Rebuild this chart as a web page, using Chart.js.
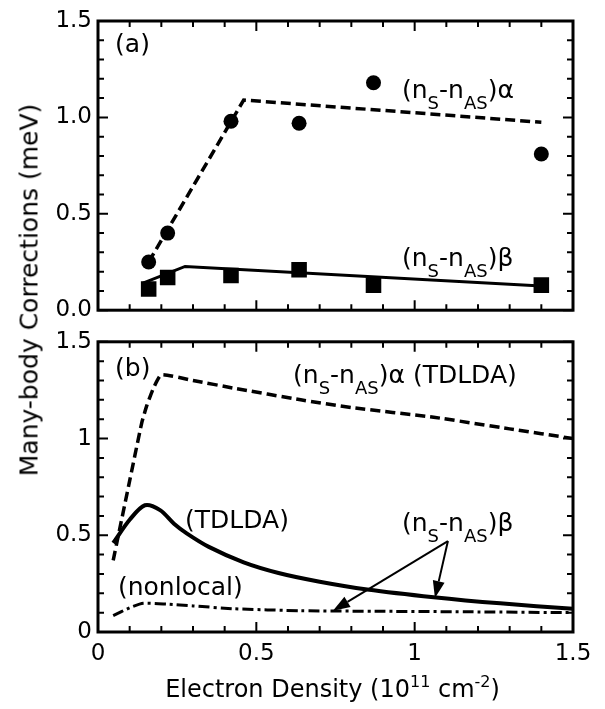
<!DOCTYPE html>
<html>
<head>
<meta charset="utf-8">
<script src="https://cdn.jsdelivr.net/npm/chart.js@4.4.1/dist/chart.umd.min.js"></script>
<style>
    body { margin: 0; background: #fff; }
    #wrap { position: relative; width: 605px; height: 709px; font-family: 'DejaVu Sans', sans-serif; color: #000; }
    #chartA { position: absolute; left: 0; top: 0; }
    #chartB { position: absolute; left: 0; top: 322px; }
    #yTitle {
        position: absolute; left: 29px; top: 290px; font-size: 25px; white-space: nowrap;
        transform: translate(-50%, -50%) rotate(-90deg);
    }
    #xTitle { position: absolute; left: 0; width: 665px; top: 677px; font-size: 24px; line-height: 24px; text-align: center; white-space: nowrap; }
    #xTitle sup { font-size: 16px; position: relative; top: -10px; vertical-align: baseline; line-height: 0; }
</style>
</head>
<body>
<div id="wrap">
    <canvas id="chartA" width="605" height="330"></canvas>
    <canvas id="chartB" width="605" height="387"></canvas>
    <div id="yTitle">Many-body Corrections (meV)</div>
    <div id="xTitle">Electron Density (10<sup>11</sup> cm<sup>-2</sup>)</div>
</div>
<script>
// (a) measured points
const densityA = [0.16, 0.22, 0.42, 0.635, 0.87, 1.40];
const alphaMeasured = [0.25, 0.40, 0.98, 0.97, 1.18, 0.81];
const betaMeasured = [0.11, 0.17, 0.18, 0.21, 0.13, 0.13];

// (a) model lines
const alphaFitX = [0.16, 0.46, 1.40];
const alphaFitY = [0.25, 1.09, 0.975];
const betaFitX = [0.142, 0.275, 1.40];
const betaFitY = [0.14, 0.227, 0.125];

// (b) TDLDA alpha (dashed)
const alphaTdldaX = [0.048, 0.096, 0.138, 0.154, 0.175, 0.20, 0.30, 0.43, 0.64, 0.80, 1.06, 1.30, 1.50];
const alphaTdldaY = [0.37, 0.75, 1.08, 1.17, 1.26, 1.33, 1.30, 1.26, 1.20, 1.16, 1.11, 1.05, 1.00];

// (b) TDLDA beta (solid)
const betaTdldaX = [0.048, 0.10, 0.148, 0.196, 0.24, 0.28, 0.35, 0.46, 0.57, 0.70, 0.85, 1.06, 1.27, 1.50];
const betaTdldaY = [0.46, 0.58, 0.655, 0.63, 0.56, 0.51, 0.44, 0.36, 0.305, 0.26, 0.22, 0.18, 0.148, 0.12];

// (b) nonlocal beta (dash-dot)
const betaNonlocalX = [0.048, 0.10, 0.143, 0.217, 0.30, 0.43, 0.64, 0.90, 1.20, 1.50];
const betaNonlocalY = [0.085, 0.125, 0.148, 0.144, 0.135, 0.12, 0.11, 0.107, 0.104, 0.10];

const xTicks = ['0', '0.5', '1', '1.5'];
const yTicksA = ['0.0', '0.5', '1.0', '1.5'];
const yTicksB = ['0', '0.5', '1', '1.5'];

Chart.defaults.font.family = "'DejaVu Sans', sans-serif";
Chart.defaults.color = '#000';
Chart.defaults.animation = false;

const toPoints = (xs, ys) => xs.map((x, i) => ({ x: x, y: ys[i] }));

// box with inward ticks on all four sides
const framePlugin = {
    id: 'frame',
    afterDraw(chart) {
        const { ctx, chartArea: a, scales } = chart;
        ctx.save();
        ctx.strokeStyle = '#000';
        ctx.lineWidth = 2;
        ctx.beginPath();
        for (let i = 0; i <= 15; i++) {
            const len = i % 5 === 0 ? 10 : 6;
            const px = scales.x.getPixelForValue(i / 10);
            const py = scales.y.getPixelForValue(i / 10);
            ctx.moveTo(px, a.bottom); ctx.lineTo(px, a.bottom - len);
            ctx.moveTo(px, a.top); ctx.lineTo(px, a.top + len);
            ctx.moveTo(a.left, py); ctx.lineTo(a.left + len, py);
            ctx.moveTo(a.right, py); ctx.lineTo(a.right - len, py);
        }
        ctx.stroke();
        ctx.lineWidth = 3;
        ctx.strokeRect(a.left, a.top, a.right - a.left, a.bottom - a.top);
        ctx.restore();
    }
};

// text labels with subscripts, and arrows
const notesPlugin = {
    id: 'notes',
    afterDatasetsDraw(chart, args, opts) {
        const { ctx, scales: { x, y } } = chart;
        ctx.save();
        ctx.fillStyle = '#000';
        ctx.strokeStyle = '#000';
        ctx.textBaseline = 'alphabetic';
        (opts.labels || []).forEach(l => {
            let px = x.getPixelForValue(l.x);
            const py = y.getPixelForValue(l.y);
            l.parts.forEach(([t, sub]) => {
                ctx.font = sub ? "18px 'DejaVu Sans'" : "25px 'DejaVu Sans'";
                ctx.fillText(t, px, py + (sub ? 11 : 0));
                px += ctx.measureText(t).width;
            });
        });
        (opts.arrows || []).forEach(ar => {
            const x0 = x.getPixelForValue(ar.from[0]), y0 = y.getPixelForValue(ar.from[1]);
            const x1 = x.getPixelForValue(ar.to[0]), y1 = y.getPixelForValue(ar.to[1]);
            const ang = Math.atan2(y1 - y0, x1 - x0);
            const head = 17, half = 6;
            const bx = x1 - head * Math.cos(ang), by = y1 - head * Math.sin(ang);
            ctx.lineWidth = 2;
            ctx.beginPath();
            ctx.moveTo(x0, y0);
            ctx.lineTo(bx, by);
            ctx.stroke();
            ctx.beginPath();
            ctx.moveTo(x1, y1);
            ctx.lineTo(bx + half * Math.sin(ang), by - half * Math.cos(ang));
            ctx.lineTo(bx - half * Math.sin(ang), by + half * Math.cos(ang));
            ctx.closePath();
            ctx.fill();
        });
        ctx.restore();
    }
};

const alphaLabel = [['(n', 0], ['S', 1], ['-n', 0], ['AS', 1], [')\u03b1', 0]];
const betaLabel = [['(n', 0], ['S', 1], ['-n', 0], ['AS', 1], [')\u03b2', 0]];

const lineSet = (xs, ys, width, dash, tension) => ({
    data: toPoints(xs, ys),
    showLine: true,
    borderColor: '#000',
    borderWidth: width,
    borderDash: dash,
    pointRadius: 0,
    tension: tension,
});

const tickFont = { size: 23 };

const chartA = new Chart(document.getElementById('chartA'), {
    type: 'scatter',
    data: {
        datasets: [
            lineSet(alphaFitX, alphaFitY, 3.5, [10, 5], 0),
            lineSet(betaFitX, betaFitY, 3, [], 0),
            {
                data: toPoints(densityA, alphaMeasured),
                pointStyle: 'circle', pointRadius: 7.5,
                backgroundColor: '#000', borderColor: '#000', borderWidth: 0,
            },
            {
                data: toPoints(densityA, betaMeasured),
                pointStyle: 'rect', pointRadius: 11,
                backgroundColor: '#000', borderColor: '#000', borderWidth: 0,
            },
        ],
    },
    options: {
        responsive: false,
        layout: { padding: { top: 21, right: 32, bottom: 12, left: 0 } },
        plugins: {
            legend: { display: false },
            tooltip: { enabled: false },
            notes: {
                labels: [
                    { x: 0.054, y: 1.34, parts: [['(a)', 0]] },
                    { x: 0.96, y: 1.10, parts: alphaLabel },
                    { x: 0.96, y: 0.227, parts: betaLabel },
                ],
            },
        },
        scales: {
            x: { type: 'linear', min: 0, max: 1.5, display: false },
            y: {
                type: 'linear', min: 0, max: 1.5,
                grid: { display: false, drawTicks: false },
                border: { display: false },
                ticks: {
                    stepSize: 0.5, padding: 6, font: tickFont,
                    callback: (v, i) => yTicksA[i],
                },
                afterFit: scale => { scale.width = 98; },
            },
        },
    },
    plugins: [framePlugin, notesPlugin],
});

const chartB = new Chart(document.getElementById('chartB'), {
    type: 'scatter',
    data: {
        datasets: [
            lineSet(alphaTdldaX, alphaTdldaY, 3.5, [10, 5], 0.15),
            lineSet(betaTdldaX, betaTdldaY, 4, [], 0.3),
            lineSet(betaNonlocalX, betaNonlocalY, 3, [11, 4, 3, 4], 0.2),
        ],
    },
    options: {
        responsive: false,
        layout: { padding: { top: 11, right: 32, bottom: 0, left: 0 } },
        plugins: {
            legend: { display: false },
            tooltip: { enabled: false },
            notes: {
                labels: [
                    { x: 0.054, y: 1.325, parts: [['(b)', 0]] },
                    { x: 0.616, y: 1.285, parts: alphaLabel.concat([[' (TDLDA)', 0]]) },
                    { x: 0.275, y: 0.537, parts: [['(TDLDA)', 0]] },
                    { x: 0.063, y: 0.19, parts: [['(nonlocal)', 0]] },
                    { x: 0.96, y: 0.52, parts: betaLabel },
                ],
                arrows: [
                    { from: [1.105, 0.47], to: [0.742, 0.11] },
                    { from: [1.105, 0.47], to: [1.064, 0.176] },
                ],
            },
        },
        scales: {
            x: {
                type: 'linear', min: 0, max: 1.5,
                grid: { display: false, drawTicks: false },
                border: { display: false },
                ticks: {
                    stepSize: 0.5, padding: 8, font: tickFont, maxRotation: 0,
                    callback: (v, i) => xTicks[i],
                },
                afterFit: scale => { scale.height = 77; },
            },
            y: {
                type: 'linear', min: 0, max: 1.5,
                grid: { display: false, drawTicks: false },
                border: { display: false },
                ticks: {
                    stepSize: 0.5, padding: 6, font: tickFont,
                    callback: (v, i) => yTicksB[i],
                },
                afterFit: scale => { scale.width = 98; },
            },
        },
    },
    plugins: [framePlugin, notesPlugin],
});
</script>
</body>
</html>
